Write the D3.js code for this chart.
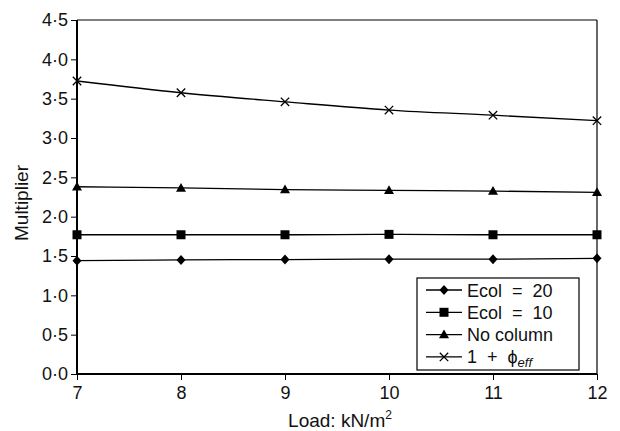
<html>
<script src="https://d3js.org/d3.v7.min.js"></script>
<style>
body { margin: 0; background: #fff; }
text { font-family: "Liberation Sans", Arial, sans-serif; fill: #111; }
</style>
<body>
<svg width="620" height="431"></svg>
<script>
var loads = [7, 8, 9, 10, 11, 12];
var ecol20 = [1.44, 1.45, 1.455, 1.46, 1.46, 1.47];
var ecol10 = [1.77, 1.77, 1.77, 1.775, 1.77, 1.77];
var noColumn = [2.38, 2.365, 2.345, 2.335, 2.325, 2.31];
var phiEff = [3.725, 3.575, 3.46, 3.355, 3.29, 3.22];
var yTicks = [0, 0.5, 1, 1.5, 2, 2.5, 3, 3.5, 4, 4.5];

var svg = d3.select("svg");
var pLeft = 77, pRight = 597, pTop = 20, pBottom = 374;

var x = d3.scaleLinear().domain([7, 12]).range([pLeft, pRight]);
var y = d3.scaleLinear().domain([0, 4.5]).range([pBottom, pTop]);

// custom marker shapes (size = half width)
var diamond = { draw: function(c, r){ c.moveTo(0,-r-0.5); c.lineTo(r,0); c.lineTo(0,r+0.5); c.lineTo(-r,0); c.closePath(); } };
var square = { draw: function(c, r){ c.rect(-r,-r,2*r,2*r); } };
var triangle = { draw: function(c, r){ c.moveTo(0,-r); c.lineTo(r,r*0.75); c.lineTo(-r,r*0.75); c.closePath(); } };
var cross = { draw: function(c, r){ c.moveTo(-r,-r); c.lineTo(r,r); c.moveTo(r,-r); c.lineTo(-r,r); } };

// frame top + right
svg.append("line").attr("x1", pLeft).attr("x2", pRight).attr("y1", pTop).attr("y2", pTop)
  .attr("stroke", "#000").attr("stroke-width", 1.2);
svg.append("line").attr("x1", pRight).attr("x2", pRight).attr("y1", pTop).attr("y2", pBottom)
  .attr("stroke", "#000").attr("stroke-width", 1.2);

var fmt = function(d){ return d3.format(".1f")(d).replace(".", "\u00b7"); };

var ya = svg.append("g").attr("transform", "translate(" + pLeft + ",0)")
  .call(d3.axisLeft(y).tickValues(yTicks).tickFormat(fmt).tickSize(6).tickPadding(3));
var xa = svg.append("g").attr("transform", "translate(0," + pBottom + ")")
  .call(d3.axisBottom(x).tickValues(loads).tickFormat(d3.format("d")).tickSize(6).tickPadding(6));

[ya, xa].forEach(function(a){
  a.attr("font-size", null).attr("font-family", null);
  a.select(".domain").attr("stroke", "#000").attr("stroke-width", 2);
  a.selectAll(".tick line").attr("stroke", "#000").attr("stroke-width", 1);
  a.selectAll(".tick text").style("font-size", "18px").attr("fill", "#111");
});
ya.select(".domain").attr("d", "M0," + pBottom + "V" + pTop);
xa.select(".domain").attr("d", "M" + pLeft + ",0H" + pRight);

var series = [
  { name: "Ecol  =  20", vals: ecol20, sym: diamond, r: 4.5 },
  { name: "Ecol  =  10", vals: ecol10, sym: square, r: 4.5 },
  { name: "No column", vals: noColumn, sym: triangle, r: 5 },
  { name: "phi", vals: phiEff, sym: cross, r: 4.2 }
];

var line = d3.line().curve(d3.curveMonotoneX)
  .x(function(d, i){ return x(loads[i]); })
  .y(function(d){ return y(d); });

function marker(sel, s) {
  sel.attr("d", d3.symbol().type(s.sym).size(s.r))
    .attr("fill", s.sym === cross ? "none" : "#000")
    .attr("stroke", "#000").attr("stroke-width", s.sym === cross ? 1.3 : 0);
}

series.forEach(function(s){
  svg.append("path").datum(s.vals).attr("d", line)
    .attr("fill", "none").attr("stroke", "#000").attr("stroke-width", 1.3);
  svg.selectAll(null).data(s.vals).enter().append("path")
    .attr("transform", function(d, i){ return "translate(" + x(loads[i]) + "," + y(d) + ")"; })
    .call(marker, s);
});

// legend
var lg = svg.append("g").attr("transform", "translate(417,278)");
lg.append("rect").attr("width", 162).attr("height", 92)
  .attr("fill", "#fff").attr("stroke", "#000").attr("stroke-width", 1.2);
series.forEach(function(s, i){
  var cy = 12 + i * 22.3;
  lg.append("line").attr("x1", 9).attr("x2", 45).attr("y1", cy).attr("y2", cy)
    .attr("stroke", "#000").attr("stroke-width", 1.3);
  lg.append("path").attr("transform", "translate(27," + cy + ")").call(marker, s);
  var t = lg.append("text").attr("x", 50).attr("y", cy + 6.5)
    .style("font-size", "18px").style("white-space", "pre");
  if (s.name === "phi") {
    t.append("tspan").text("1  +  \u03d5");
    t.append("tspan").attr("dy", 4).style("font-size", "13px").style("font-style", "italic").text("eff");
  } else {
    t.text(s.name);
  }
});

// axis titles
svg.append("text").attr("transform", "translate(28,203) rotate(-90)")
  .attr("text-anchor", "middle").style("font-size", "19px").text("Multiplier");
var xt = svg.append("text").attr("x", 340).attr("y", 427)
  .attr("text-anchor", "middle").style("font-size", "19px");
xt.append("tspan").text("Load: kN/m");
xt.append("tspan").attr("dy", -8).style("font-size", "12px").text("2");
</script>
</body>
</html>
